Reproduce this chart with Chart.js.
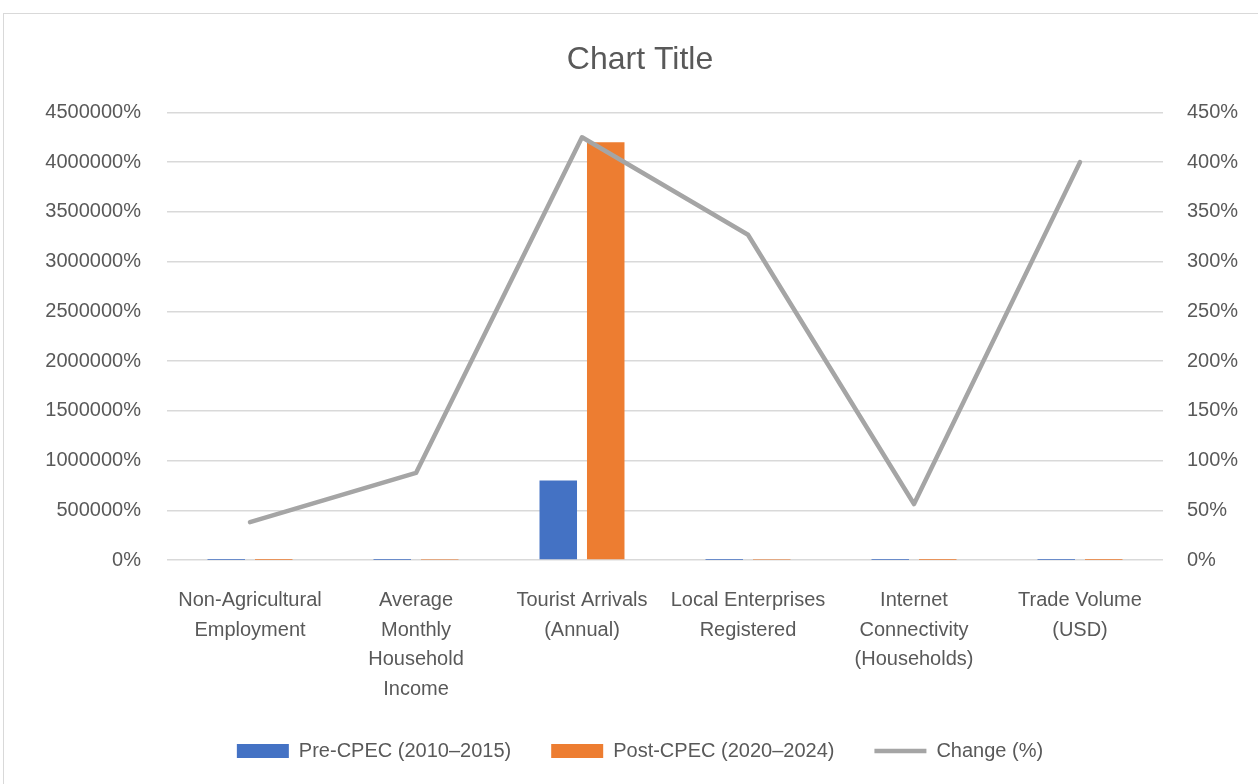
<!DOCTYPE html>
<html><head><meta charset="utf-8">
<script src="https://cdn.jsdelivr.net/npm/chart.js@4.4.1/dist/chart.umd.min.js"></script>
<style>
html,body{margin:0;padding:0;background:#fff;overflow:hidden;width:1258px;height:784px;}
#frame{position:absolute;left:3px;top:13px;width:1300px;height:820px;border:1px solid #d9d9d9;box-sizing:border-box;}
#c{position:absolute;left:4px;top:13px;}
</style></head><body>
<div id="frame"></div>
<canvas id="c" width="1272" height="758"></canvas>
<script>
const categories = [
  ["Non-Agricultural", "Employment"],
  ["Average", "Monthly", "Household", "Income"],
  ["Tourist Arrivals", "(Annual)"],
  ["Local Enterprises", "Registered"],
  ["Internet", "Connectivity", "(Households)"],
  ["Trade Volume", "(USD)"]
];
const seriesNames = ["Pre-CPEC (2010\u20132015)", "Post-CPEC (2020\u20132024)", "Change (%)"];
const preValues = [0.32, 8, 8000, 3, 3.2, 1.2];
const postValues = [0.44, 15, 42000, 12.8, 5, 6];
const changeValues = [0.38, 0.875, 4.25, 3.27, 0.5625, 4.0];
const leftTicks = { min: 0, max: 45000, step: 5000 };
const rightTicks = { min: 0, max: 4.5, step: 0.5 };

Chart.defaults.font.family = "'Liberation Sans', Arial, sans-serif";
Chart.defaults.color = '#595959';

new Chart(document.getElementById('c'), {
  type: 'bar',
  data: {
    labels: categories,
    datasets: [
      { type: 'bar', label: seriesNames[0], data: preValues, backgroundColor: '#4472c4', yAxisID: 'y', order: 1,
        pointStyle: 'rect', categoryPercentage: 0.572, barPercentage: 0.79 },
      { type: 'bar', label: seriesNames[1], data: postValues, backgroundColor: '#ed7d31', yAxisID: 'y', order: 1,
        pointStyle: 'rect', categoryPercentage: 0.572, barPercentage: 0.79 },
      { type: 'line', label: seriesNames[2], data: changeValues, borderColor: '#a5a5a5', backgroundColor: '#a5a5a5',
        borderWidth: 4.5, pointRadius: 0, pointHoverRadius: 0, yAxisID: 'y1', order: 0, tension: 0,
        borderCapStyle: 'round', borderJoinStyle: 'round', pointStyle: 'line' }
    ]
  },
  options: {
    responsive: false,
    animation: false,
    layout: { padding: 0 },
    plugins: {
      tooltip: { enabled: false },
      title: { display: true, text: 'Chart Title', color: '#595959',
        font: { size: 32, weight: 'normal', lineHeight: 1.2 }, padding: { top: 28, bottom: 33 } },
      legend: {
        position: 'bottom',
        labels: { usePointStyle: true, pointStyleWidth: 52, boxHeight: 14, padding: 40,
          font: { size: 20 }, color: '#595959',
          sort: (a, b) => a.datasetIndex - b.datasetIndex }
      }
    },
    scales: {
      x: {
        grid: { display: false, drawTicks: false },
        border: { display: false },
        ticks: { font: { size: 20, lineHeight: 1.475 }, maxRotation: 0, autoSkip: false, padding: 26, color: '#595959' },
        afterFit: s => { s.height = 141; }
      },
      y: {
        position: 'left', min: leftTicks.min, max: leftTicks.max,
        grid: { color: '#d9d9d9', lineWidth: 1.5, drawTicks: false },
        border: { display: false },
        ticks: { stepSize: leftTicks.step, padding: 26, font: { size: 20 }, color: '#595959',
          callback: v => Math.round(v * 100) + '%' },
        afterFit: s => { s.width = 163; }
      },
      y1: {
        position: 'right', min: rightTicks.min, max: rightTicks.max,
        grid: { display: false, drawTicks: false },
        border: { display: false },
        ticks: { stepSize: rightTicks.step, padding: 24, font: { size: 20 }, color: '#595959',
          callback: v => Math.round(v * 100) + '%' },
        afterFit: s => { s.width = 113; }
      }
    }
  }
});
</script>
</body></html>
